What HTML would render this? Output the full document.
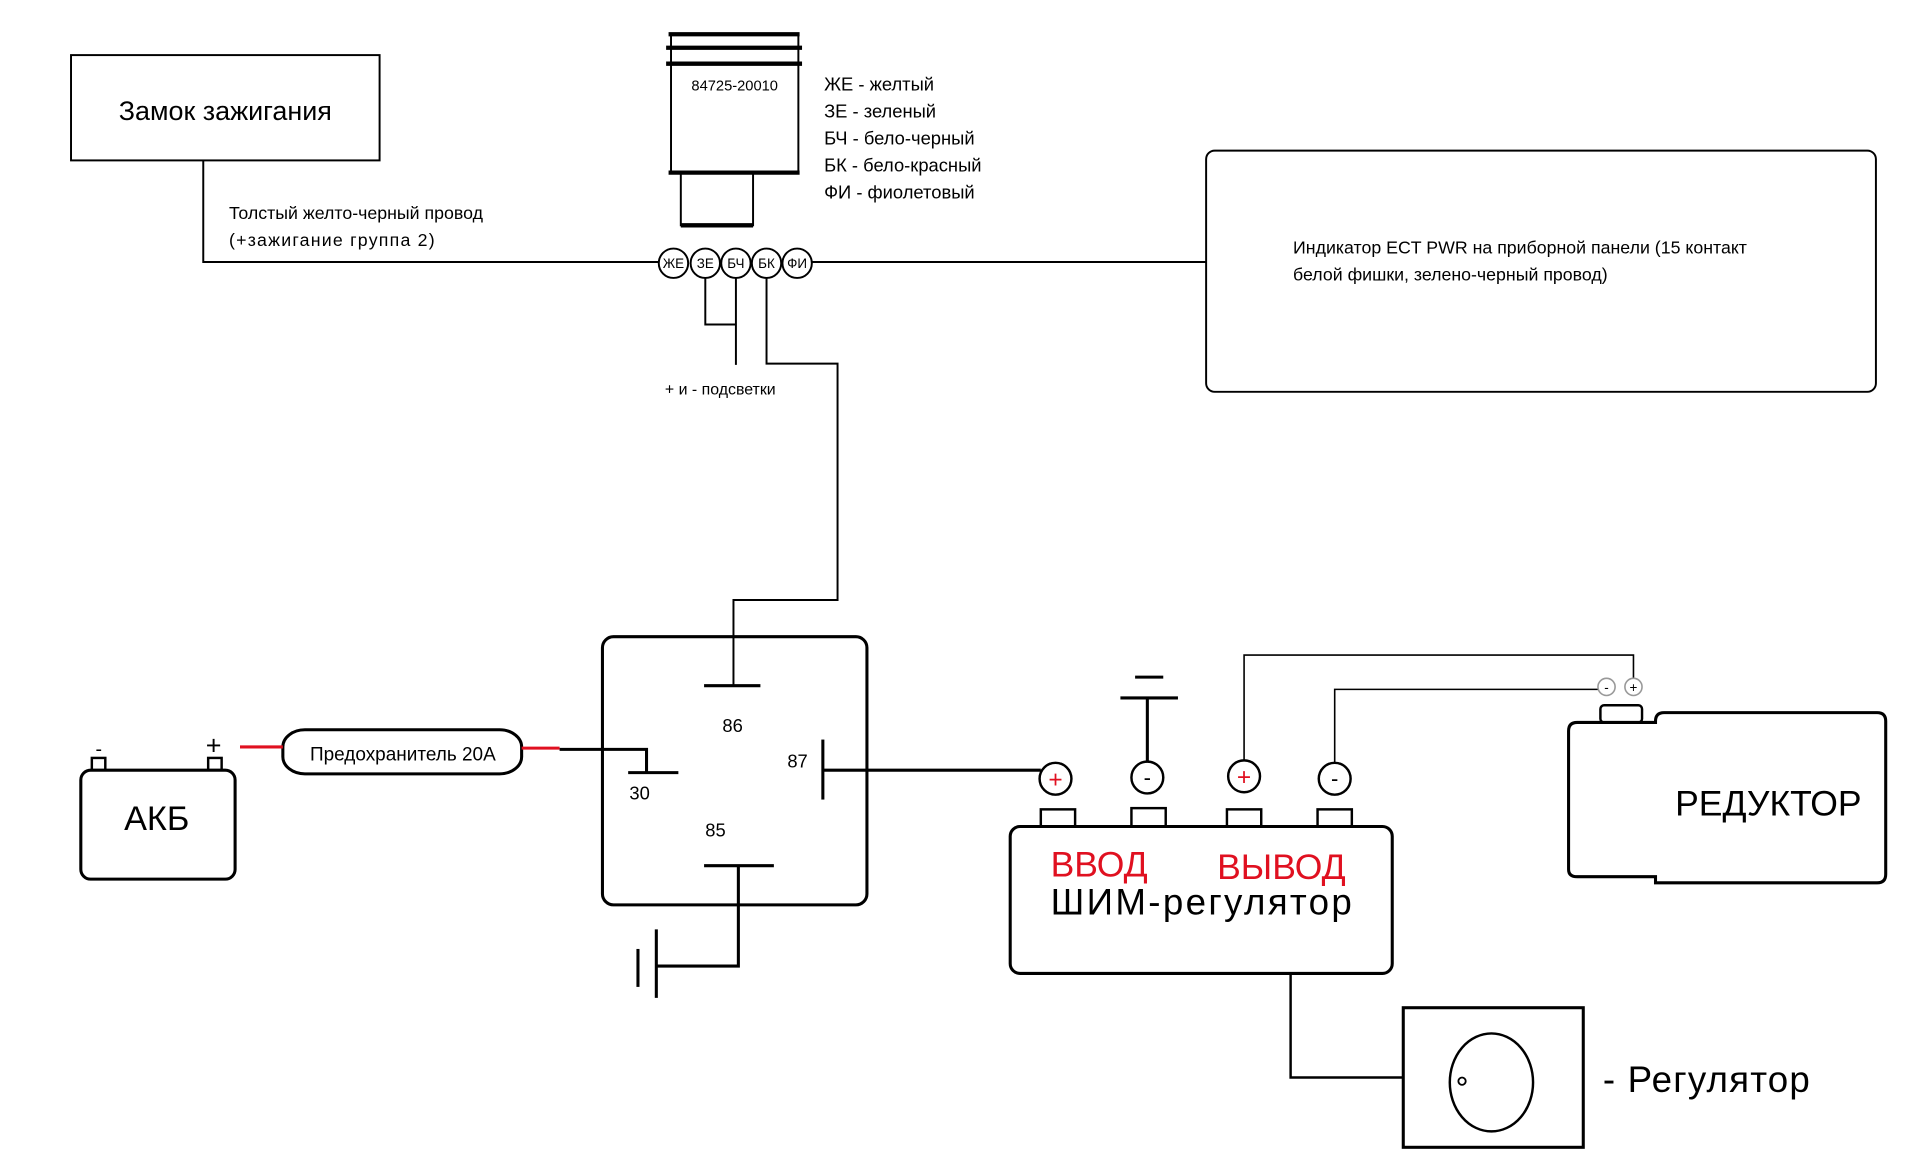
<!DOCTYPE html>
<html><head><meta charset="utf-8"><style>html,body{margin:0;padding:0;background:#fff;}svg{display:block}</style></head>
<body>
<svg width="1920" height="1162" viewBox="0 0 1568 949" preserveAspectRatio="none" xmlns="http://www.w3.org/2000/svg" font-family="Liberation Sans, sans-serif">
<g fill="none" stroke="#000" stroke-width="1.6">
<rect x="58" y="45" width="252" height="86"/>
<polyline points="166,131 166,214 538,214"/>
<line x1="663" y1="214" x2="985" y2="214"/>
<circle cx="550" cy="215" r="12"/><circle cx="576" cy="215" r="12"/><circle cx="601" cy="215" r="12"/><circle cx="626" cy="215" r="12"/><circle cx="651" cy="215" r="12"/>
<rect x="985" y="123" width="547" height="197" rx="7"/>
<polyline points="576,227 576,265 601,265"/>
<line x1="601" y1="227" x2="601" y2="298"/>
<polyline points="626,227 626,297 684,297 684,490 599,490 599,560"/>
<rect x="548" y="52" width="104" height="89"/>
<rect x="556" y="141" width="59" height="43"/>
<line x1="548" y1="28" x2="548" y2="52"/><line x1="652" y1="28" x2="652" y2="52"/>
</g>
<g stroke="#000" stroke-width="3.5">
<line x1="546" y1="28" x2="653" y2="28"/><line x1="544" y1="39" x2="655" y2="39"/><line x1="544" y1="52" x2="655" y2="52"/><line x1="546" y1="141" x2="653" y2="141"/><line x1="556" y1="184" x2="615" y2="184"/>
</g>
<g fill="none" stroke="#000" stroke-width="2.5">
<rect x="492" y="520" width="216" height="219" rx="9"/>
<line x1="575" y1="560" x2="621" y2="560"/>
<polyline points="457,612 528,612 528,631"/>
<line x1="513" y1="631" x2="554" y2="631"/>
<line x1="672" y1="604" x2="672" y2="653"/>
<line x1="672" y1="629" x2="850" y2="629"/>
<line x1="575" y1="707" x2="632" y2="707"/>
<polyline points="603,707 603,789 536,789"/>
<line x1="536" y1="759" x2="536" y2="815"/>
<line x1="521" y1="775" x2="521" y2="806"/>
<rect x="66" y="629" width="126" height="89" rx="8"/>
<rect x="75" y="619" width="11" height="10" stroke-width="2"/>
<rect x="170" y="619" width="11" height="10" stroke-width="2"/>
<rect x="231" y="596" width="195" height="36" rx="18" ry="14"/>
<rect x="825" y="675" width="312" height="120" rx="8"/>
<rect x="850" y="661" width="28" height="14" stroke-width="2"/>
<rect x="924" y="660" width="28" height="15" stroke-width="2"/>
<rect x="1002" y="661" width="28" height="14" stroke-width="2"/>
<rect x="1076" y="661" width="28" height="14" stroke-width="2"/>
<line x1="937" y1="622" x2="937" y2="570"/>
<line x1="915" y1="570" x2="962" y2="570"/>
<line x1="927" y1="553" x2="950" y2="553"/>
<path d="M1352,590 L1288,590 Q1281,590 1281,597 L1281,710 Q1281,716 1288,716 L1352,716 L1352,721 L1533,721 Q1540,721 1540,714 L1540,589 Q1540,582 1533,582 L1359,582 Q1352,582 1352,589 Z"/>
<rect x="1307" y="576" width="34" height="14" rx="3" stroke-width="2"/>
<polyline points="1054,795 1054,880 1146,880" stroke-width="2"/>
<rect x="1146" y="823" width="147" height="114"/>
<ellipse cx="1218" cy="884" rx="34" ry="40" stroke-width="2"/>
<circle cx="1194" cy="883" r="3" stroke-width="1.5"/>
</g>
<g stroke="#e01020" stroke-width="2.5"><line x1="196" y1="610" x2="231" y2="610"/><line x1="426" y1="611" x2="457" y2="611"/></g>
<g fill="none" stroke="#000" stroke-width="1.3">
<polyline points="1016,621 1016,535 1334,535 1334,554"/>
<polyline points="1090,623 1090,563 1305,563"/>
<circle cx="1312" cy="561" r="7" stroke="#999"/><circle cx="1334" cy="561" r="7" stroke="#999"/>
</g>
<g fill="none" stroke="#000" stroke-width="2">
<circle cx="862" cy="636" r="13"/><circle cx="937" cy="635" r="13"/><circle cx="1016" cy="634" r="13"/><circle cx="1090" cy="636" r="13"/>
</g>
<g font-size="20" text-anchor="middle" fill="#e01020"><text x="862" y="643">+</text><text x="1016" y="641">+</text></g>
<g font-size="18" text-anchor="middle"><text x="937" y="641">-</text><text x="1090" y="642">-</text></g>
<g font-size="11" text-anchor="middle"><text x="1312" y="565">-</text><text x="1334" y="565">+</text></g>
<text x="184" y="98" font-size="22" text-anchor="middle">Замок зажигания</text>
<g font-size="14.5"><text x="187" y="179">Толстый желто-черный провод</text><text x="187" y="201" textLength="168">(+зажигание группа 2)</text></g>
<g font-size="11" text-anchor="middle"><text x="550" y="219">ЖЕ</text><text x="576" y="219">ЗЕ</text><text x="601" y="219">БЧ</text><text x="626" y="219">БК</text><text x="651" y="219">ФИ</text></g>
<text x="600" y="74" font-size="12" text-anchor="middle">84725-20010</text>
<g font-size="15"><text x="673" y="74">ЖЕ - желтый</text><text x="673" y="96">ЗЕ - зеленый</text><text x="673" y="118">БЧ - бело-черный</text><text x="673" y="140">БК - бело-красный</text><text x="673" y="162">ФИ - фиолетовый</text></g>
<g font-size="14.5"><text x="1056" y="207">Индикатор ECT PWR на приборной панели (15 контакт</text><text x="1056" y="229">белой фишки, зелено-черный провод)</text></g>
<text x="543" y="322" font-size="13">+ и - подсветки</text>
<g font-size="15"><text x="590" y="598">86</text><text x="514" y="653">30</text><text x="643" y="627">87</text><text x="576" y="683">85</text></g>
<text x="78" y="617" font-size="16">-</text><text x="168" y="616" font-size="22">+</text>
<text x="128" y="678" font-size="28" text-anchor="middle">АКБ</text>
<text x="329" y="621" font-size="15.5" text-anchor="middle">Предохранитель 20А</text>
<g font-size="29" fill="#e01020"><text x="858" y="716">ВВОД</text><text x="994" y="718">ВЫВОД</text></g>
<text x="858" y="747" font-size="30" textLength="246">ШИМ-регулятор</text>
<text x="1368" y="666" font-size="29">РЕДУКТОР</text>
<text x="1309" y="892" font-size="30" textLength="169">- Регулятор</text>
</svg>
</body></html>
